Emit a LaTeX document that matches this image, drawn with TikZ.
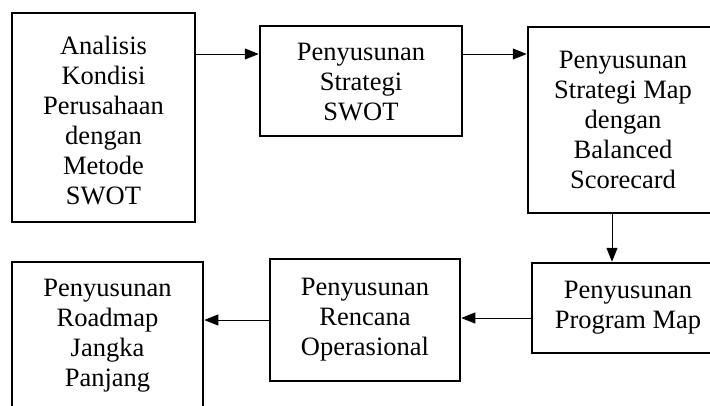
\documentclass[tikz,border=0pt]{standalone}
\usepackage{fontspec}
\setmainfont{Liberation Serif}
\usepackage{tikz}
\usetikzlibrary{arrows.meta, positioning, calc}

\begin{document}
\begin{tikzpicture}[
    x=1pt, y=-1pt,
    every node/.style={font=\fontsize{26.5}{30}\selectfont},
    stepbox/.style={draw, rectangle, line width=2.5pt, align=center, inner sep=0pt},
    arr/.style={-{Triangle[length=14pt, width=11pt]}, line width=1pt}
]
\useasboundingbox (0,0) rectangle (710,405);

% ===== Baris 1 (kiri -> kanan) =====
\node[stepbox, minimum width=183, minimum height=209] (analisis) at (103.5,117.5) {\raisebox{-6pt}[\height][\depth]{\begin{tabular}{@{}c@{}}Analisis\\Kondisi\\Perusahaan\\dengan\\Metode\\SWOT\end{tabular}}};
\node[stepbox, minimum width=202, minimum height=110] (strategi) at (361,81) {\raisebox{-3pt}[\height][\depth]{\begin{tabular}{@{}c@{}}Penyusunan\\Strategi\\SWOT\end{tabular}}};
\node[stepbox, minimum width=190, minimum height=186] (stratmap) at (623,120) {Penyusunan\\Strategi Map\\dengan\\Balanced\\Scorecard};

% ===== Baris 2 (kanan -> kiri) =====
\node[stepbox, minimum width=192, minimum height=90] (program) at (628,308) {Penyusunan\\Program Map};
\node[stepbox, minimum width=190, minimum height=122] (rencana) at (365,320) {Penyusunan\\Rencana\\Operasional};
\node[stepbox, minimum width=191, minimum height=148] (roadmap) at (107.5,336) {Penyusunan\\Roadmap\\Jangka\\Panjang};

% ===== Titik bantu =====
\coordinate (row1) at (0,54);
\coordinate (col3) at (612,0);
\coordinate (row2) at (0,318);

% ===== Panah =====
\draw[arr] (analisis.east |- row1) -- (strategi.west |- row1);
\draw[arr] (strategi.east |- row1) -- (stratmap.west |- row1);
\draw[arr] (stratmap.south -| col3) -- (program.north -| col3);
\draw[arr] (program.west |- row2) -- (rencana.east |- row2);
\draw[arr] (rencana.west) -- (roadmap.east |- rencana.west);

\end{tikzpicture}
\end{document}
